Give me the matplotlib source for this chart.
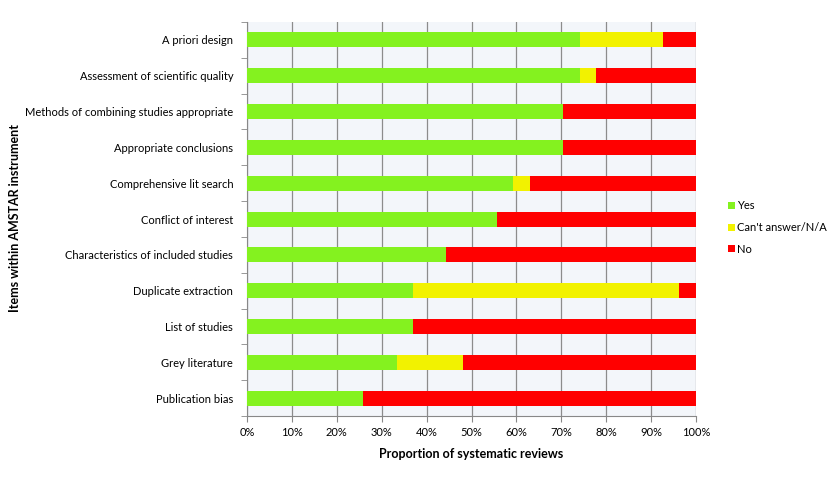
import matplotlib
matplotlib.use("Agg")
import matplotlib.pyplot as plt
from matplotlib.patches import Patch

plt.rcParams['font.family'] = ['Lato', 'DejaVu Sans']

items = ["A priori design", "Assessment of scientific quality",
         "Methods of combining studies appropriate", "Appropriate conclusions",
         "Comprehensive lit search", "Conflict of interest",
         "Characteristics of included studies", "Duplicate extraction",
         "List of studies", "Grey literature", "Publication bias"]
yes = [74.1, 74.1, 70.4, 70.4, 59.3, 55.6, 44.4, 37.0, 37.0, 33.3, 25.9]
cant = [18.5, 3.7, 0.0, 0.0, 3.7, 0.0, 0.0, 59.3, 0.0, 14.8, 0.0]
no = [7.4, 22.2, 29.6, 29.6, 37.0, 44.4, 55.6, 3.7, 63.0, 51.9, 74.1]
series_names = ["Yes", "Can't answer/N/A", "No"]
x_ticks = [0, 10, 20, 30, 40, 50, 60, 70, 80, 90, 100]

colors = ["#84F21F", "#F2F200", "#FF0000"]

fig = plt.figure(figsize=(8.27, 4.79), dpi=100)
ax = fig.add_axes([0.2987, 0.1315, 0.5429, 0.8225])
ax.set_facecolor("#F3F6FA")

pos = list(range(len(items)))
left = [0.0] * len(items)
for vals, c in zip([yes, cant, no], colors):
    ax.barh(pos, vals, left=left, height=0.42, color=c, zorder=3)
    left = [l + v for l, v in zip(left, vals)]

ax.set_xlim(0, 100)
ax.set_ylim(len(items) - 0.5, -0.5)
ax.set_xticks(x_ticks)
ax.set_xticklabels([f"{t}%" for t in x_ticks], fontsize=8)
ax.set_yticks(pos)
ax.set_yticklabels(items, fontsize=8)
ax.tick_params(axis='y', length=0, pad=10)
ax.tick_params(axis='x', length=4, color="#888888", pad=4)
# minor ticks between categories on y
ax.set_yticks([p - 0.5 for p in pos] + [len(items) - 0.5], minor=True)
ax.tick_params(axis='y', which='minor', length=4, color="#888888")
ax.xaxis.grid(True, color="#8C8C8C", linewidth=0.9, zorder=1)
ax.set_axisbelow(True)
for s in ["top", "right"]:
    ax.spines[s].set_visible(False)
for s in ["left", "bottom"]:
    ax.spines[s].set_color("#888888")

ax.set_xlabel("Proportion of systematic reviews", fontsize=9, fontweight="bold", labelpad=7)
fig.text(0.018, 0.545, "Items within AMSTAR instrument", rotation=90, fontsize=9,
         fontweight="bold", ha="center", va="center")

handles = [Patch(facecolor=c, edgecolor="none") for c in colors]
fig.legend(handles, series_names, loc="center left", bbox_to_anchor=(0.868, 0.525),
           frameon=False, fontsize=8, handlelength=0.6, handleheight=0.6,
           handletextpad=0.2, labelspacing=0.95)

fig.savefig("out.png", dpi=100)
